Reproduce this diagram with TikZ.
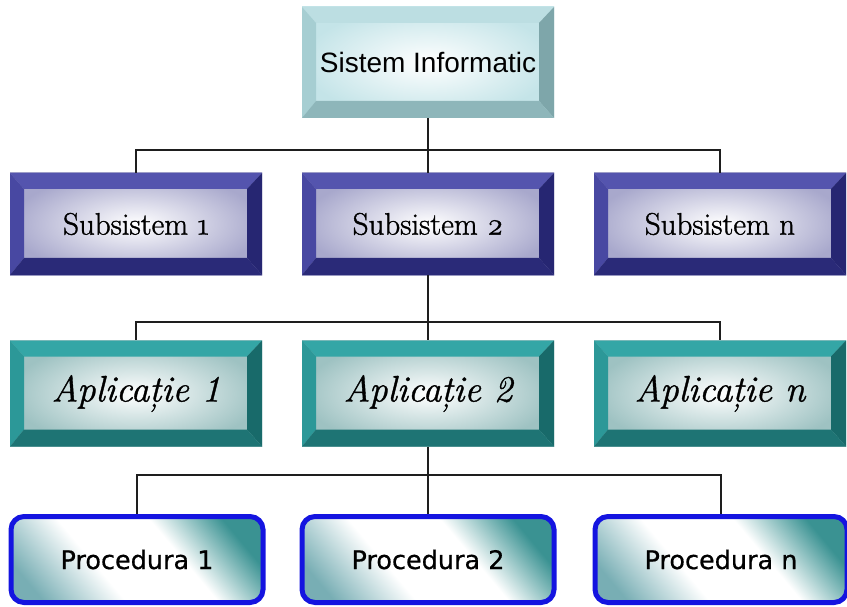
\documentclass[tikz,border=0pt]{standalone}
\usepackage{fontspec}
\newfontfamily\sisfont{Liberation Sans}
\newfontfamily\procfont{DejaVu Sans}[FakeBold=0.6]
\newfontfamily\subfont{Latin Modern Roman}[Numbers=OldStyle, FakeBold=1.2]
\newfontfamily\appfont{Latin Modern Roman}[FakeBold=1.0]
\usetikzlibrary{calc}
\definecolor{siTop}{HTML}{BCDEE2}
\definecolor{siLeft}{HTML}{A6CED2}
\definecolor{siRight}{HTML}{7EA6AA}
\definecolor{siBot}{HTML}{8EB6BA}
\definecolor{siFace}{HTML}{C4E4E8}
\definecolor{ssTop}{HTML}{5454AE}
\definecolor{ssLeft}{HTML}{4848A2}
\definecolor{ssRight}{HTML}{262672}
\definecolor{ssBot}{HTML}{2A2A78}
\definecolor{ssFace}{HTML}{A8A8CC}
\definecolor{apTop}{HTML}{34A6A6}
\definecolor{apLeft}{HTML}{2C9898}
\definecolor{apRight}{HTML}{186A6A}
\definecolor{apBot}{HTML}{1E7474}
\definecolor{apFace}{HTML}{9EC2C2}
\definecolor{prBlue}{HTML}{1414E0}
\definecolor{prTeal}{HTML}{3A9292}
\definecolor{prTeal2}{HTML}{78AEB4}
\definecolor{connCol}{HTML}{1E1E1E}
\pgfdeclarehorizontalshading{procsh}{100bp}{color(0bp)=(prTeal2); color(22bp)=(prTeal2); color(40bp)=(white); color(60bp)=(white); color(76bp)=(prTeal); color(100bp)=(prTeal)}
\tikzset{
  bevelbox/.style n args={5}{
    draw=none, inner color=white, outer color=#1,
    minimum width=252pt, inner sep=0pt,
    path picture={
      \fill[#2] (path picture bounding box.north west) -- (path picture bounding box.north east)
        -- ([xshift=-15pt,yshift=-16pt]path picture bounding box.north east)
        -- ([xshift=14pt,yshift=-16pt]path picture bounding box.north west) -- cycle;
      \fill[#3] (path picture bounding box.north west) -- ([xshift=14pt,yshift=-16pt]path picture bounding box.north west)
        -- ([xshift=14pt,yshift=17pt]path picture bounding box.south west)
        -- (path picture bounding box.south west) -- cycle;
      \fill[#4] (path picture bounding box.north east) -- ([xshift=-15pt,yshift=-16pt]path picture bounding box.north east)
        -- ([xshift=-15pt,yshift=17pt]path picture bounding box.south east)
        -- (path picture bounding box.south east) -- cycle;
      \fill[#5] (path picture bounding box.south west) -- ([xshift=14pt,yshift=17pt]path picture bounding box.south west)
        -- ([xshift=-15pt,yshift=17pt]path picture bounding box.south east)
        -- (path picture bounding box.south east) -- cycle;
    }
  },
  topbox/.style={bevelbox={siFace}{siTop}{siLeft}{siRight}{siBot}, minimum height=111pt,
    font=\sisfont\fontsize{28}{32}\selectfont},
  subbox/.style={bevelbox={ssFace}{ssTop}{ssLeft}{ssRight}{ssBot}, minimum height=102pt,
    font=\subfont\fontsize{31}{34}\selectfont},
  appbox/.style={bevelbox={apFace}{apTop}{apLeft}{apRight}{apBot}, minimum height=106pt,
    font=\appfont\itshape\fontsize{37}{40}\selectfont},
  procbox/.style={draw=prBlue, line width=5pt, rounded corners=13pt,
    minimum width=252pt, minimum height=86pt, inner sep=0pt,
    shading=procsh, shading angle=40,
    font=\procfont\fontsize{25.5}{28}\selectfont},
  conn/.style={draw=connCol, line width=1.4pt}
}
\begin{document}
\begin{tikzpicture}[x=1pt,y=-1pt]
\useasboundingbox[fill=white] (0,0) rectangle (847,607);
\node[topbox] (si) at (428,62.5) {Sistem Informatic};
\node[subbox] (s1) at (136,224) {Subsistem 1};
\node[subbox] (s2) at (428,224) {Subsistem 2};
\node[subbox] (sn) at (720,224) {Subsistem n};
\node[appbox] (a1) at (136,393.5) {Aplicație 1};
\node[appbox] (a2) at (428,393.5) {Aplicație 2};
\node[appbox] (an) at (720,393.5) {Aplicație n};
\node[procbox, shade] (p1) at (137,559.5) {Procedura 1};
\node[procbox, shade] (p2) at (428,559.5) {Procedura 2};
\node[procbox, shade] (pn) at (721,559.5) {Procedura n};
\coordinate (b1) at (428,150);
\coordinate (b2) at (428,322);
\coordinate (b3) at (428,475);
\draw[conn] (si.south) -- (b1) -| (s1.north);
\draw[conn] (b1) -- (s2.north);
\draw[conn] (b1) -| (sn.north);
\draw[conn] (s2.south) -- (b2) -| (a1.north);
\draw[conn] (b2) -- (a2.north);
\draw[conn] (b2) -| (an.north);
\draw[conn] (a2.south) -- (b3) -| (p1.north);
\draw[conn] (b3) -- (p2.north);
\draw[conn] (b3) -| (pn.north);
\end{tikzpicture}
\end{document}
